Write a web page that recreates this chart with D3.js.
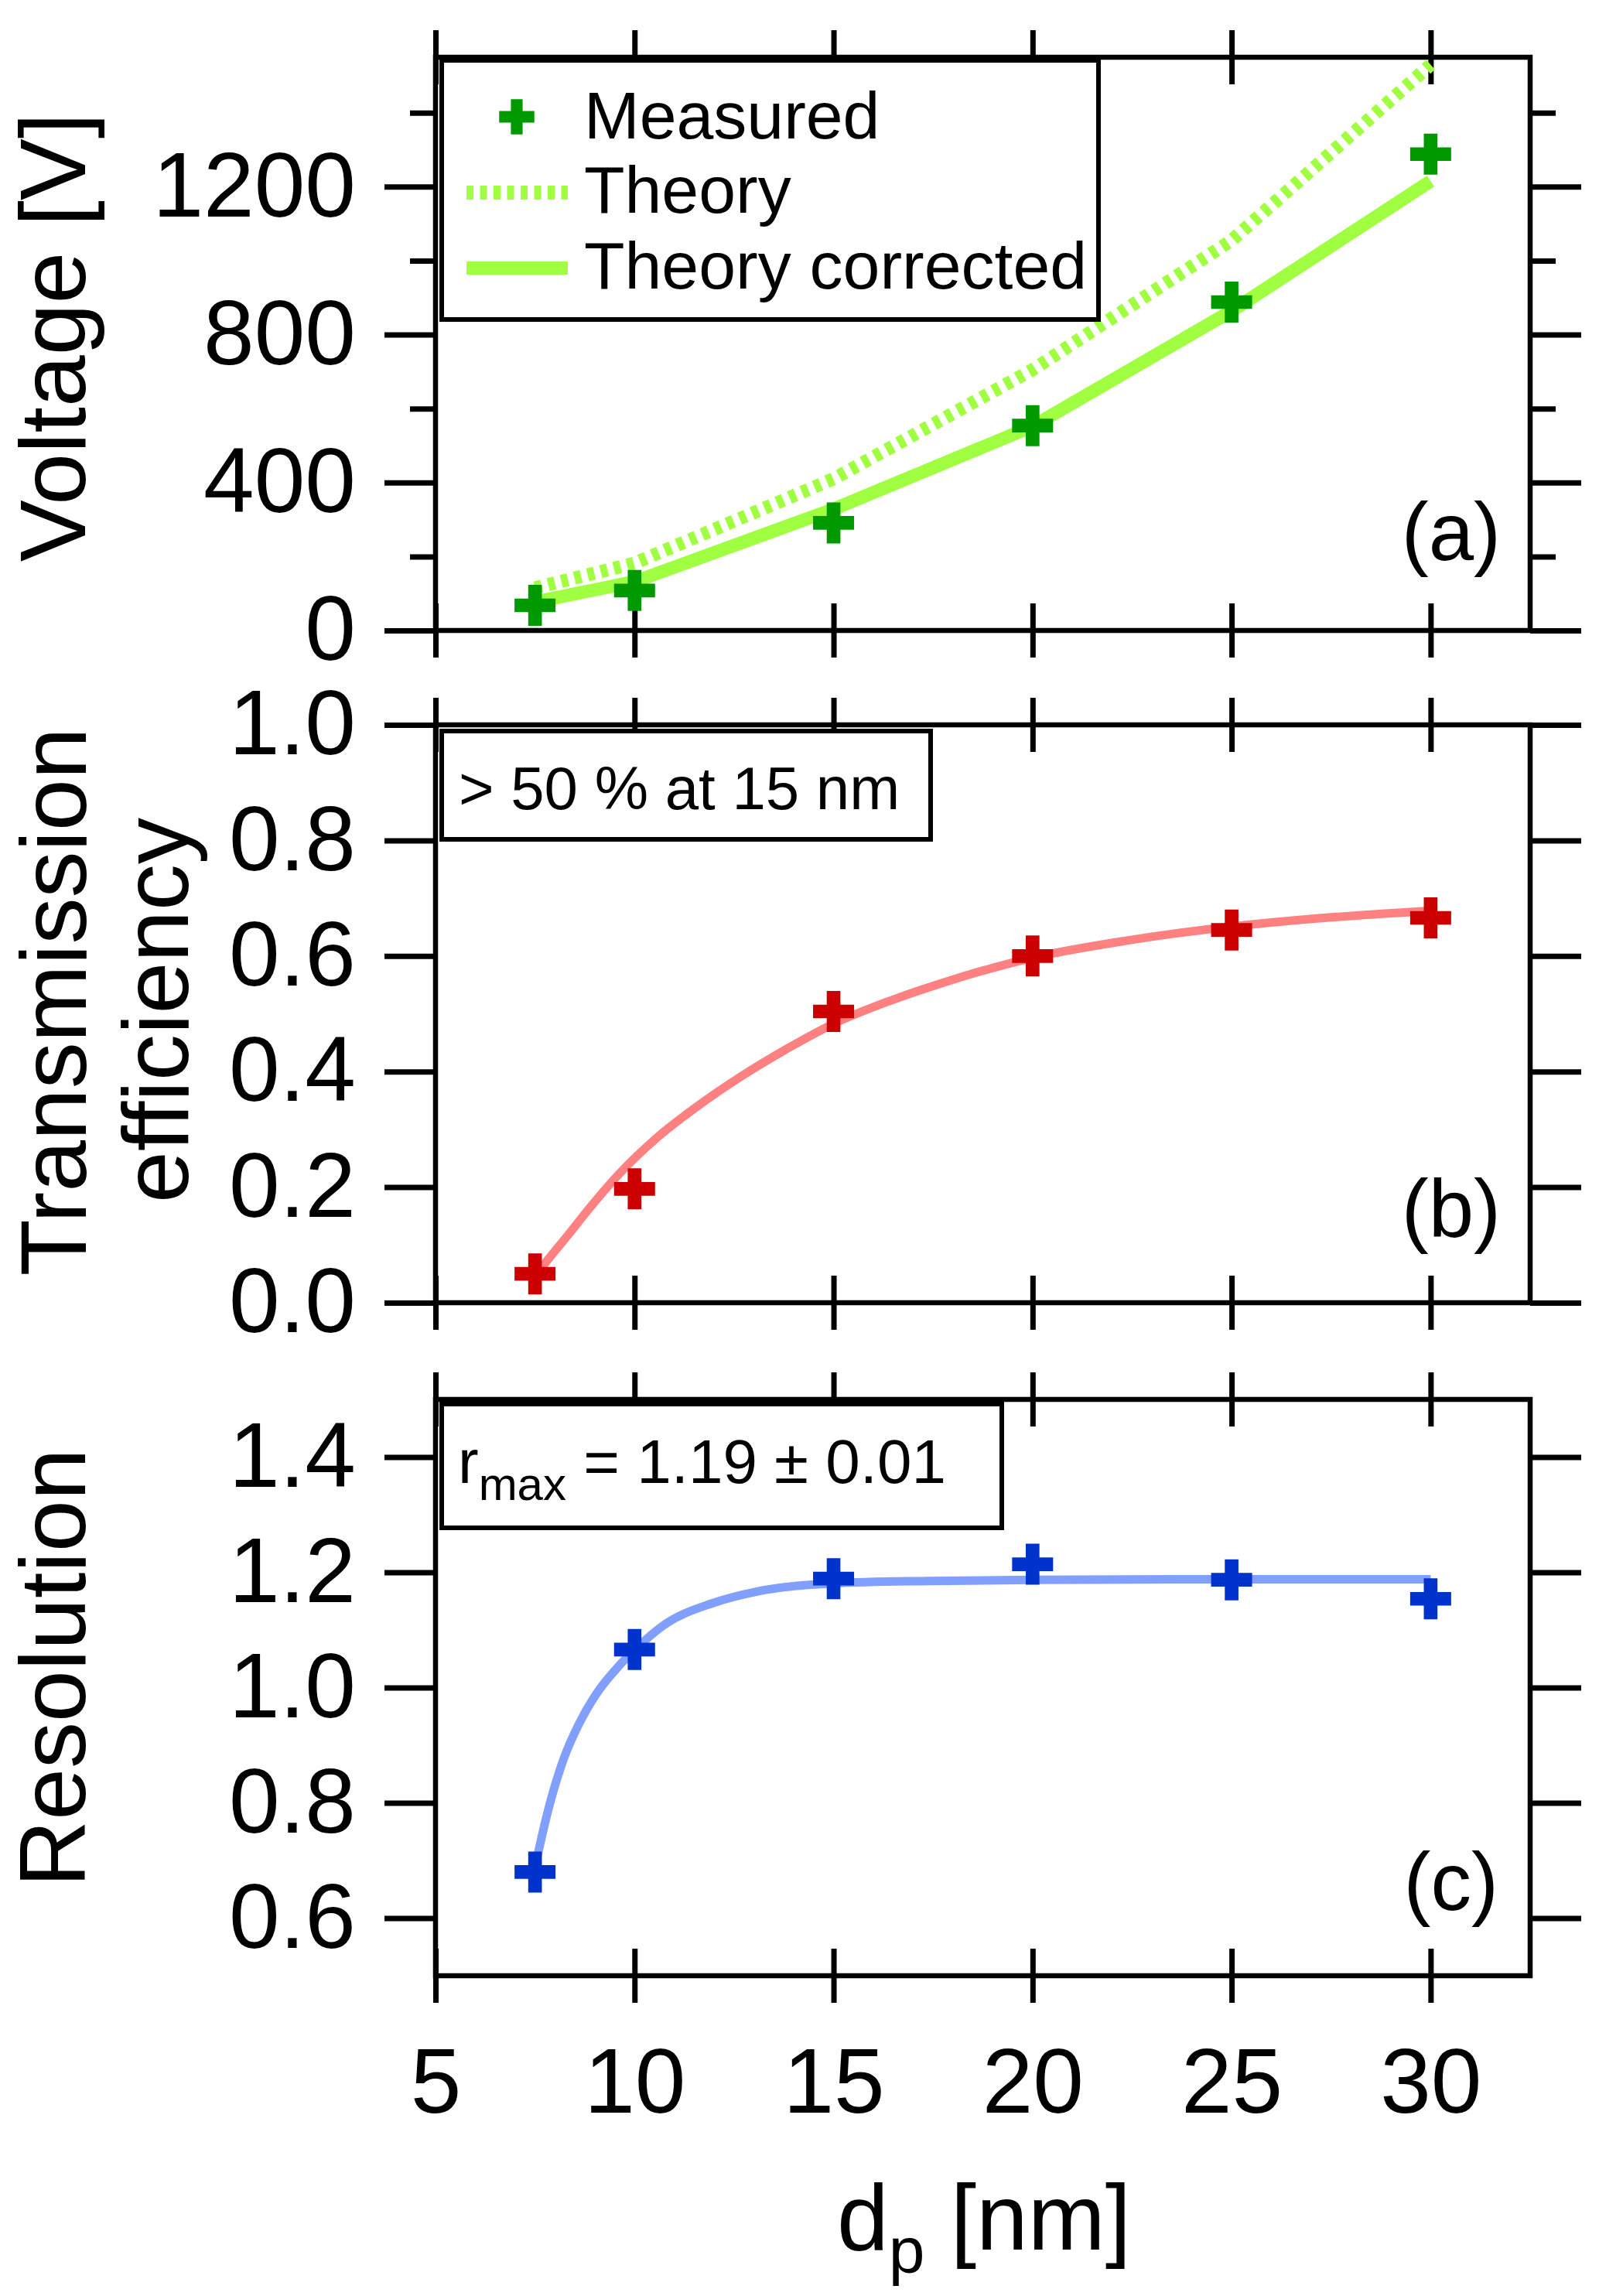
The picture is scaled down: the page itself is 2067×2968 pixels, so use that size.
<!DOCTYPE html>
<html><head><meta charset="utf-8">
<script src="https://cdn.jsdelivr.net/npm/d3@7"></script>
<style>body{margin:0;background:#fff}</style>
</head><body>
<svg id="chart" width="2067" height="2968"></svg>
<script>
// ---------- data ----------
const dp = [7.5, 10, 15, 20, 25, 30];
const voltageMeasured = [68, 108, 291, 554, 888, 1288];
const voltageTheory = [115, 182, 410, 705, 1055, 1530];
const voltageCorrected = [77, 132, 328, 552, 864, 1215];
const transMeasured = [0.050, 0.197, 0.504, 0.600, 0.645, 0.666];
const transFitX = [7.5, 7.66, 8.34, 8.92, 9.6, 10.57, 11.54, 12.71, 13.87, 14.98, 16.4, 17.76, 20, 22.4, 25, 27.5, 30];
const transFitY = [0.045, 0.060, 0.118, 0.168, 0.222, 0.286, 0.338, 0.393, 0.441, 0.482, 0.522, 0.554, 0.597, 0.627, 0.651, 0.667, 0.678];
const resMeasured = [0.680, 1.066, 1.189, 1.214, 1.187, 1.154];
const resFitX = [7.5, 7.56, 7.76, 7.95, 8.24, 8.59, 9.02, 9.6, 10, 10.77, 11.94, 13.1, 15, 17.4, 20, 25, 30];
const resFitY = [0.690, 0.708, 0.768, 0.818, 0.880, 0.935, 0.987, 1.037, 1.065, 1.110, 1.146, 1.167, 1.181, 1.185, 1.187, 1.188, 1.188];

const dpTicks = [5, 10, 15, 20, 25, 30];
const dpTickLabels = ["5", "10", "15", "20", "25", "30"];
const voltageTicks = [0, 400, 800, 1200];
const voltageTickLabels = ["0", "400", "800", "1200"];
const voltageMinor = [200, 600, 1000, 1400];
const transTicks = [0, 0.2, 0.4, 0.6, 0.8, 1.0];
const transTickLabels = ["0.0", "0.2", "0.4", "0.6", "0.8", "1.0"];
const resTicks = [0.6, 0.8, 1.0, 1.2, 1.4];
const resTickLabels = ["0.6", "0.8", "1.0", "1.2", "1.4"];
const legendLabels = ["Measured", "Theory", "Theory corrected"];

// ---------- layout ----------
const W = 2067, H = 2968;
const FONT = "'Liberation Sans', Arial, Helvetica, sans-serif";
const L = 563, R = 1978;
const svg = d3.select('#chart');
svg.append('rect').attr('width', W).attr('height', H).attr('fill', '#fff');

const x = d3.scaleLinear().domain([5, 32.5]).range([L, R]);

const panels = [
  {top: 74, bottom: 815, domain: [0, 1550], ticks: voltageTicks, labels: voltageTickLabels, minor: voltageMinor},
  {top: 937, bottom: 1684, domain: [0, 1], ticks: transTicks, labels: transTickLabels, minor: []},
  {top: 1809, bottom: 2554, domain: [0.5, 1.5], ticks: resTicks, labels: resTickLabels, minor: []}
];
panels.forEach(p => { p.y = d3.scaleLinear().domain(p.domain).range([p.bottom, p.top]); });

function styleAxis(g, fs) {
  g.attr('font-family', FONT).attr('font-size', fs);
  g.select('.domain').remove();
  g.selectAll('.tick line').attr('stroke', '#000').attr('stroke-width', 7);
  g.selectAll('.tick text').attr('fill', '#000');
}

panels.forEach((p, idx) => {
  const g = svg.append('g');
  g.append('g').attr('transform', `translate(${L},0)`)
    .call(d3.axisLeft(p.y).tickValues(p.ticks).tickSize(66).tickSizeOuter(0).tickPadding(37)
      .tickFormat((d, i) => p.labels[i]))
    .call(a => styleAxis(a, 118));
  if (p.minor.length) {
    g.append('g').attr('transform', `translate(${L},0)`)
      .call(d3.axisLeft(p.y).tickValues(p.minor).tickSize(33).tickSizeOuter(0).tickFormat(''))
      .call(a => styleAxis(a, 10));
    g.append('g').attr('transform', `translate(${R},0)`)
      .call(d3.axisRight(p.y).tickValues(p.minor).tickSize(33).tickSizeOuter(0).tickFormat(''))
      .call(a => styleAxis(a, 10));
  }
  g.append('g').attr('transform', `translate(${R},0)`)
    .call(d3.axisRight(p.y).tickValues(p.ticks).tickSize(66).tickSizeOuter(0).tickFormat(''))
    .call(a => styleAxis(a, 10));
  [p.top, p.bottom].forEach(yy => {
    g.append('g').attr('transform', `translate(0,${yy})`)
      .call(d3.axisTop(x).tickValues(dpTicks).tickSize(35).tickSizeOuter(0).tickFormat(''))
      .call(a => styleAxis(a, 10));
    const isBottomLabels = (idx === 2 && yy === p.bottom);
    g.append('g').attr('transform', `translate(0,${yy})`)
      .call(d3.axisBottom(x).tickValues(dpTicks).tickSize(35).tickSizeOuter(0).tickPadding(58)
        .tickFormat((d, i) => isBottomLabels ? dpTickLabels[i] : ''))
      .call(a => styleAxis(a, 118));
  });
  g.append('rect').attr('x', L).attr('y', p.top).attr('width', R - L).attr('height', p.bottom - p.top)
    .attr('fill', 'none').attr('stroke', '#000').attr('stroke-width', 6.5);
});

// ---------- panel (a) ----------
const pa = panels[0];
const lineA = d3.line().x((d, i) => x(dp[i])).y(d => pa.y(d));
svg.append('path').datum(voltageTheory).attr('d', lineA)
  .attr('fill', 'none').attr('stroke', '#a0ff40').attr('stroke-width', 17).attr('stroke-dasharray', '9,8.5');
svg.append('path').datum(voltageCorrected).attr('d', lineA)
  .attr('fill', 'none').attr('stroke', '#a0ff40').attr('stroke-width', 17);
const crossBig = d3.symbol().type(d3.symbolCross).size(1560);
svg.append('g').selectAll('path').data(voltageMeasured).join('path')
  .attr('d', crossBig).attr('fill', '#009900')
  .attr('transform', (d, i) => `translate(${x(dp[i])},${pa.y(d)})`);

// legend
const leg = svg.append('g');
leg.append('rect').attr('x', 571).attr('y', 78).attr('width', 849).attr('height', 335)
  .attr('fill', '#fff').attr('stroke', '#000').attr('stroke-width', 6);
leg.append('path').attr('d', d3.symbol().type(d3.symbolCross).size(1150)())
  .attr('fill', '#009900').attr('transform', 'translate(668,151)');
leg.append('line').attr('x1', 603).attr('x2', 734).attr('y1', 249).attr('y2', 249)
  .attr('stroke', '#a0ff40').attr('stroke-width', 18).attr('stroke-dasharray', '9,8.5');
leg.append('line').attr('x1', 603).attr('x2', 734).attr('y1', 346.5).attr('y2', 346.5)
  .attr('stroke', '#a0ff40').attr('stroke-width', 17);
[179, 275, 373].forEach((yy, i) => {
  leg.append('text').attr('x', 755).attr('y', yy).attr('font-family', FONT).attr('font-size', 86)
    .text(legendLabels[i]);
});

// ---------- panel (b) ----------
const pb = panels[1];
const lineB = d3.line().x((d, i) => x(transFitX[i])).y(d => pb.y(d)).curve(d3.curveMonotoneX);
svg.append('path').datum(transFitY).attr('d', lineB)
  .attr('fill', 'none').attr('stroke', '#ff8080').attr('stroke-width', 11);
svg.append('g').selectAll('path').data(transMeasured).join('path')
  .attr('d', crossBig).attr('fill', '#cc0000')
  .attr('transform', (d, i) => `translate(${x(dp[i])},${pb.y(d)})`);
svg.append('rect').attr('x', 571).attr('y', 945).attr('width', 632).attr('height', 140)
  .attr('fill', '#fff').attr('stroke', '#000').attr('stroke-width', 6);
svg.append('text').attr('x', 593).attr('y', 1046).attr('font-family', FONT).attr('font-size', 78)
  .text('> 50 % at 15 nm');

// ---------- panel (c) ----------
const pc = panels[2];
const lineC = d3.line().x((d, i) => x(resFitX[i])).y(d => pc.y(d)).curve(d3.curveMonotoneX);
svg.append('path').datum(resFitY).attr('d', lineC)
  .attr('fill', 'none').attr('stroke', '#809fff').attr('stroke-width', 11);
svg.append('g').selectAll('path').data(resMeasured).join('path')
  .attr('d', crossBig).attr('fill', '#0033cc')
  .attr('transform', (d, i) => `translate(${x(dp[i])},${pc.y(d)})`);
svg.append('rect').attr('x', 571).attr('y', 1815).attr('width', 724).attr('height', 160)
  .attr('fill', '#fff').attr('stroke', '#000').attr('stroke-width', 6);
const rt = svg.append('text').attr('x', 592).attr('y', 1917).attr('font-family', FONT).attr('font-size', 80);
rt.append('tspan').text('r');
rt.append('tspan').attr('font-size', 60).attr('dy', 22).text('max');
rt.append('tspan').attr('dy', -22).text(' = 1.19 ± 0.01');

// panel letters
[["(a)", 1940, 724], ["(b)", 1940, 1599], ["(c)", 1937, 2469]].forEach(([t, xx, yy]) => {
  svg.append('text').attr('x', xx).attr('y', yy).attr('text-anchor', 'end')
    .attr('font-family', FONT).attr('font-size', 105).text(t);
});

// axis titles
function vTitle(t, bx, cy) {
  svg.append('text').attr('transform', `translate(${bx},${cy}) rotate(-90)`)
    .attr('text-anchor', 'middle').attr('font-family', FONT).attr('font-size', 120).text(t);
}
vTitle('Voltage [V]', 110, 436);
vTitle('Transmission', 111, 1295);
vTitle('efficiency', 243, 1306);
vTitle('Resolution', 110, 2156);

const xt = svg.append('text').attr('x', 1272).attr('y', 2908).attr('text-anchor', 'middle')
  .attr('font-family', FONT).attr('font-size', 120);
xt.append('tspan').text('d');
xt.append('tspan').attr('font-size', 84).attr('dy', 30).text('p');
xt.append('tspan').attr('dy', -30).text(' [nm]');
</script>
</body></html>
